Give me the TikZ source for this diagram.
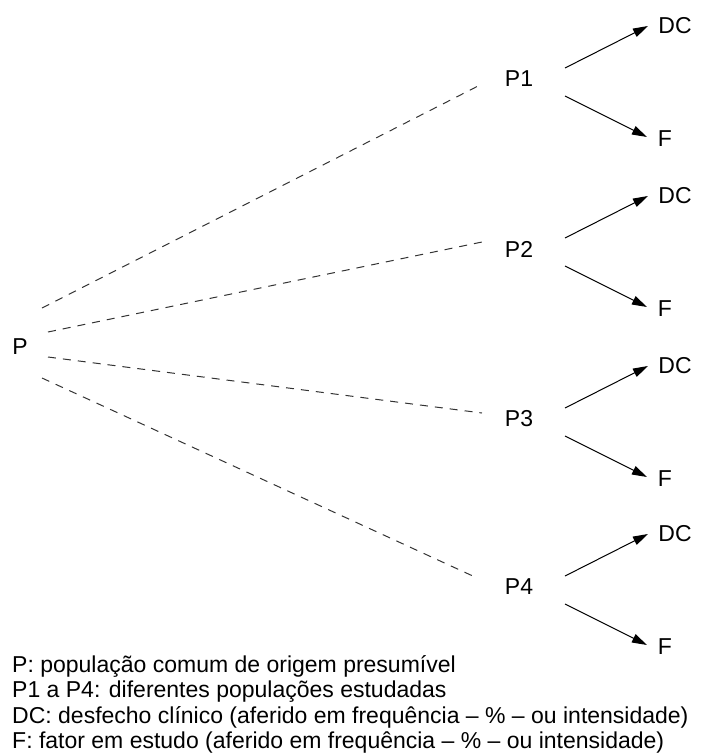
\documentclass[tikz,border=0pt]{standalone}
\usepackage{fontspec}
\setmainfont{Liberation Sans}
\usetikzlibrary{arrows.meta}
\begin{document}
\begin{tikzpicture}[x=1pt,y=-1pt,
  every node/.style={font=\fontsize{23}{26}\selectfont, inner sep=0pt},
  label text/.style={},
  legend line/.style={anchor=base west},
  link/.style={dash pattern=on 8pt off 7pt, line width=1pt, black!80},
  outcome/.style={-{Triangle[length=15pt,width=9pt]}, line width=1pt}]
\useasboundingbox (0,0) rectangle (705,756);

% common population
\node[label text] (P) at (20,347) {P};

% studied populations
\node[label text] (P1) at (519,79) {P1};
\node[label text] (P2) at (519,249) {P2};
\node[label text] (P3) at (519,419) {P3};
\node[label text] (P4) at (519,587) {P4};

% clinical outcomes and factors
\node[label text] (DC1) at (675,26) {DC};
\node[label text] (F1) at (665,139) {F};
\node[label text] (DC2) at (675,196) {DC};
\node[label text] (F2) at (665,309) {F};
\node[label text] (DC3) at (675,366) {DC};
\node[label text] (F3) at (665,479) {F};
\node[label text] (DC4) at (675,534) {DC};
\node[label text] (F4) at (665,647) {F};

% dashed links from P to each studied population
\draw[link] ([shift={(22,-39)}]P.center) -- ([shift={(-37,5)}]P1.center);
\draw[link] ([shift={(28,-15)}]P.center) -- ([shift={(-37,-7)}]P2.center);
\draw[link] ([shift={(28,10)}]P.center) -- ([shift={(-37,-6)}]P3.center);
\draw[link] ([shift={(22,31)}]P.center) -- ([shift={(-44,-10)}]P4.center);

% arrows to clinical outcome and factor
\foreach \i in {1,2,3,4}{
  \draw[outcome] ([shift={(46,-11)}]P\i.center) -- ([shift={(-27,0)}]DC\i.center);
  \draw[outcome] ([shift={(46,17)}]P\i.center) -- ([shift={(-18,-2)}]F\i.center);
}

% legend
\node[legend line] (leg1) at (12,672) {P: população comum de origem presumível};
\node[legend line] (leg2) at (12,697) {P1 a P4: diferentes populações estudadas};
\node[legend line] (leg3) at (12,723) {DC: desfecho clínico (aferido em frequência – \% – ou intensidade)};
\node[legend line] (leg4) at (12,748) {F: fator em estudo (aferido em frequência – \% – ou intensidade)};
\end{tikzpicture}
\end{document}
